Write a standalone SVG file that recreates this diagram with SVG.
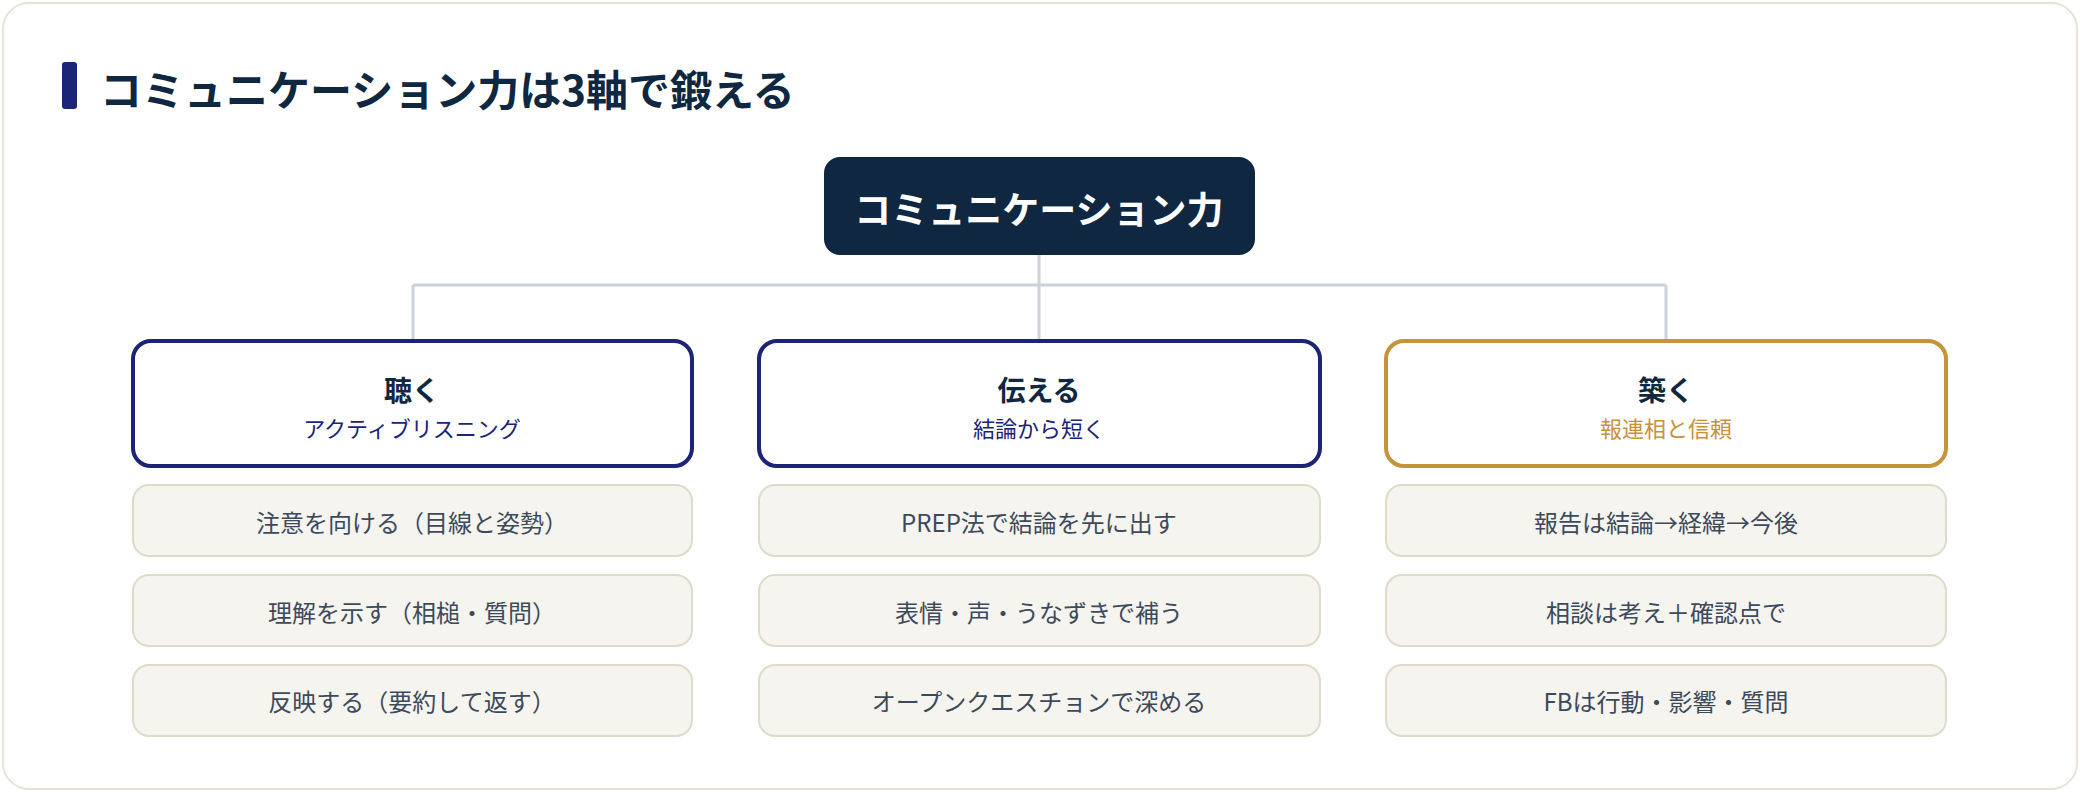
<svg xmlns="http://www.w3.org/2000/svg" width="2080" height="792" viewBox="0 0 2080 792">
<style>
text{font-family:"Noto Sans CJK JP","Noto Sans",sans-serif;text-anchor:middle;dominant-baseline:central}
.title{font-size:42px;font-weight:700;fill:#0f2740;text-anchor:start}
.cat{fill:#fff;stroke-width:4}
.nv{stroke:#1b2475}.gd{stroke:#c6923a}
.ct{font-size:28px;font-weight:700;fill:#0f2740}
.cs{font-size:22px}
.item{fill:#f5f4ee;stroke:#dedbcb;stroke-width:2}
.it{font-size:24px;fill:#3d4a5c}
.ln{stroke:#cbd2dc;stroke-width:3;fill:none}
</style>
<rect x="3" y="3" width="2074" height="786" rx="26" fill="#fff" stroke="#e6e3d6" stroke-width="2"/>
<rect x="62" y="62" width="15" height="47" rx="3" fill="#1b2475"/>
<text class="title" x="100" y="87">コミュニケーション力は3軸で鍛える</text>
<g id="connectors">
<path class="ln" d="M1039 255V285M413 285H1666M413 285V341M1039 285V341M1666 285V341"/>
</g>
<g id="root"><rect x="824" y="157" width="431" height="98" rx="16" fill="#0f2740"/><text x="1039" y="208" font-size="37" font-weight="700" fill="#fff">コミュニケーション力</text></g>
<g id="listen">
<rect class="cat nv" x="133" y="341" width="559" height="125" rx="18"/>
<text class="ct" x="412" y="389">聴く</text><text class="cs" x="412" y="427" fill="#1b2475">アクティブリスニング</text>
</g>
<g id="convey">
<rect class="cat nv" x="759" y="341" width="561" height="125" rx="18"/>
<text class="ct" x="1039" y="389">伝える</text><text class="cs" x="1039" y="427" fill="#1b2475">結論から短く</text>
</g>
<g id="build">
<rect class="cat gd" x="1386" y="341" width="560" height="125" rx="18"/>
<text class="ct" x="1666" y="389">築く</text><text class="cs" x="1666" y="427" fill="#c6923a">報連相と信頼</text>
</g>
<g id="l1"><rect class="item" x="133" y="485" width="559" height="71" rx="16"/><text class="it" x="412" y="521">注意を向ける（目線と姿勢）</text></g>
<g id="l2"><rect class="item" x="133" y="575" width="559" height="71" rx="16"/><text class="it" x="412" y="611">理解を示す（相槌・質問）</text></g>
<g id="l3"><rect class="item" x="133" y="665" width="559" height="71" rx="16"/><text class="it" x="412" y="700">反映する（要約して返す）</text></g>
<g id="c1"><rect class="item" x="759" y="485" width="561" height="71" rx="16"/><text class="it" x="1039" y="521">PREP法で結論を先に出す</text></g>
<g id="c2"><rect class="item" x="759" y="575" width="561" height="71" rx="16"/><text class="it" x="1039" y="611">表情・声・うなずきで補う</text></g>
<g id="c3"><rect class="item" x="759" y="665" width="561" height="71" rx="16"/><text class="it" x="1039" y="700">オープンクエスチョンで深める</text></g>
<g id="b1"><rect class="item" x="1386" y="485" width="560" height="71" rx="16"/><text class="it" x="1666" y="521">報告は結論→経緯→今後</text></g>
<g id="b2"><rect class="item" x="1386" y="575" width="560" height="71" rx="16"/><text class="it" x="1666" y="611">相談は考え＋確認点で</text></g>
<g id="b3"><rect class="item" x="1386" y="665" width="560" height="71" rx="16"/><text class="it" x="1666" y="700">FBは行動・影響・質問</text></g>
</svg>
